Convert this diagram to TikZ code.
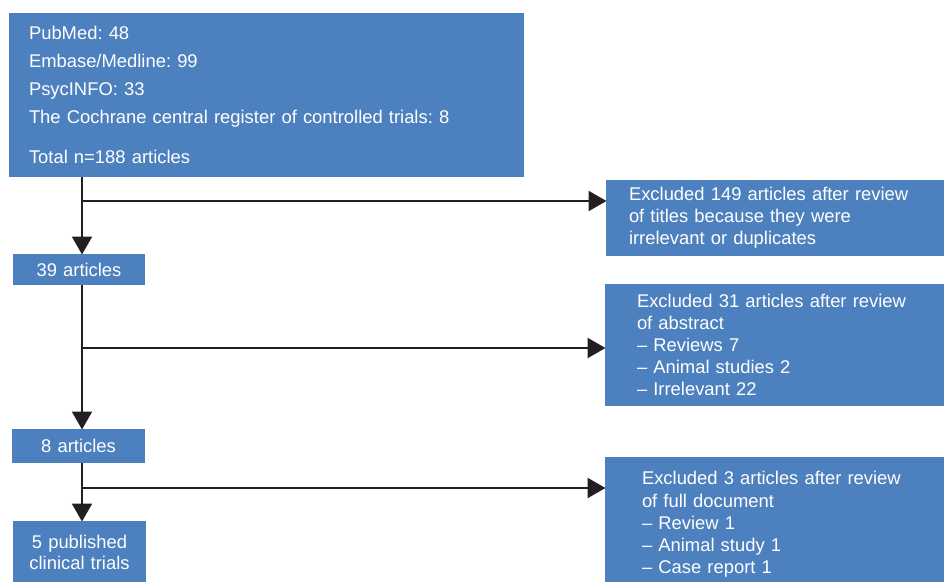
\documentclass[tikz,border=0pt]{standalone}
\usepackage{fontspec}
\setmainfont{Liberation Sans}
\usetikzlibrary{arrows.meta}
\definecolor{boxblue}{RGB}{77,128,190}
\definecolor{linedark}{RGB}{35,31,32}
\frenchspacing
\tikzset{
  box/.style={fill=boxblue, text=white, anchor=north west, inner ysep=0pt, outer sep=0pt},
  lbox/.style={box, align=left, font=\fontsize{18.4}{22.2}\selectfont},
  sbox/.style={box, align=center, inner xsep=0pt, font=\fontsize{18.4}{21}\selectfont},
  conn/.style={draw=linedark, line width=2.4pt},
  arr/.style={conn, -{Triangle[length=18pt,width=20pt]}, shorten >=-0.5pt}
}
\begin{document}
\begin{tikzpicture}[x=1pt,y=-1pt]
\useasboundingbox (0,0) rectangle (944,581);
% main column boxes
\node[lbox, font=\fontsize{18.4}{28}\selectfont, minimum width=515pt, minimum height=164pt, inner xsep=20pt, text width=475pt] (top) at (9,13)
 {PubMed: 48\\Embase/Medline: 99\\PsycINFO: 33\\The Cochrane central register of controlled trials: 8\\[12pt]Total n=188 articles};
\node[sbox, minimum width=132pt, minimum height=31pt, text width=132pt] (n39) at (13,254) {39 articles};
\node[sbox, minimum width=133pt, minimum height=34pt, text width=133pt] (n8) at (12,429) {8 articles};
\node[sbox, minimum width=133pt, minimum height=63pt, text width=133pt] (n5) at (13,521) {5 published\\clinical trials};
% exclusion boxes
\node[lbox, minimum width=338pt, minimum height=76pt, inner xsep=23pt, text width=292pt] (ex1) at (606,180)
 {Excluded 149 articles after review\\of titles because they were\\irrelevant or duplicates};
\node[lbox, minimum width=339pt, minimum height=122pt, inner xsep=32pt, text width=275pt] (ex2) at (605,284)
 {Excluded 31 articles after review\\of abstract\\– Reviews 7\\– Animal studies 2\\– Irrelevant 22};
\node[lbox, minimum width=339pt, minimum height=135pt, inner xsep=37pt, text width=265pt] (ex3) at (605,457)
 {Excluded 3 articles after review\\of full document\\– Review 1\\– Animal study 1\\– Case report 1};
% branch points
\coordinate (b1) at (82,201);
\coordinate (b2) at (82,348);
\coordinate (b3) at (82,488);
% connectors
\draw[arr] (top.south -| b1) -- (n39.north -| b1);
\draw[arr] (b1) -- (ex1.west |- b1);
\draw[arr] (n39.south -| b2) -- (n8.north -| b2);
\draw[arr] (b2) -- (ex2.west |- b2);
\draw[arr] (n8.south -| b3) -- (n5.north -| b3);
\draw[arr] (b3) -- (ex3.west |- b3);
\end{tikzpicture}
\end{document}
